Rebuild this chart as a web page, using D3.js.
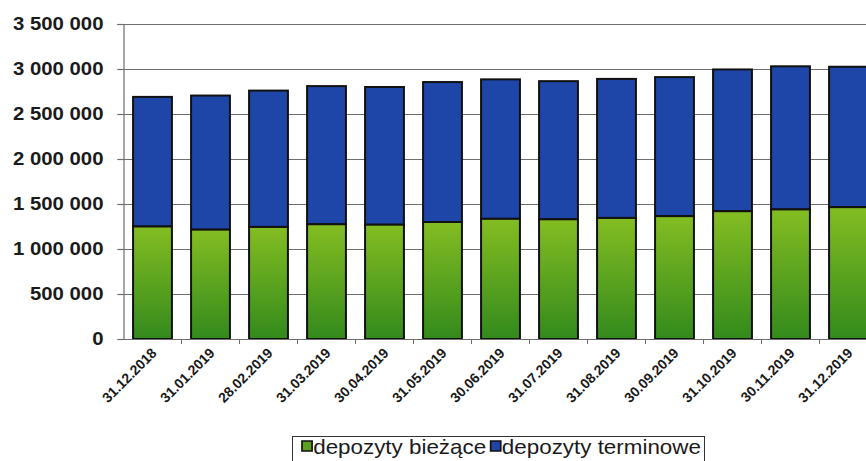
<!DOCTYPE html>
<html>
<head>
<meta charset="utf-8">
<script src="https://cdn.jsdelivr.net/npm/d3@7"></script>
<style>
  html, body { margin: 0; padding: 0; background: #fff; }
  svg { display: block; font-family: "Liberation Sans", Arial, sans-serif; }
</style>
</head>
<body>
<div id="chart"></div>
<script>
// Month-end dates
const categories = ["31.12.2018","31.01.2019","28.02.2019","31.03.2019","30.04.2019","31.05.2019",
  "30.06.2019","31.07.2019","31.08.2019","30.09.2019","31.10.2019","30.11.2019","31.12.2019"];
// Current deposits
const biezace = [1250000,1215000,1245000,1275000,1270000,1300000,1335000,1330000,1345000,1365000,1420000,1440000,1465000];
// Term deposits
const terminowe = [1440000,1490000,1515000,1535000,1530000,1555000,1550000,1535000,1545000,1545000,1575000,1590000,1560000];
const yTicks = [0,500000,1000000,1500000,2000000,2500000,3000000,3500000];
const seriesNames = ["depozyty bieżące","depozyty terminowe"];

const W = 866, H = 461;
const mLeft = 123.5, mTop = 24, mBottom = 339, mRight = mLeft + 58 * categories.length;

const svg = d3.select("#chart").append("svg").attr("width", W).attr("height", H);

const defs = svg.append("defs");
const gGreen = defs.append("linearGradient").attr("id","gGreen").attr("x1",0).attr("y1",0).attr("x2",0).attr("y2",1);
gGreen.append("stop").attr("offset","0%").attr("stop-color","#84bd22");
gGreen.append("stop").attr("offset","100%").attr("stop-color","#338a1c");

const x = d3.scaleBand().domain(categories).range([mLeft, mRight]).paddingInner(0.33).paddingOuter(0.165);
const y = d3.scaleLinear().domain([0, 3500000]).range([mBottom, mTop]);

// gridlines
svg.append("g").selectAll("line").data(yTicks.filter(d => d > 0)).join("line")
  .attr("x1", mLeft - 6).attr("x2", mRight)
  .attr("y1", d => Math.round(y(d)) + 0.5).attr("y2", d => Math.round(y(d)) + 0.5)
  .attr("stroke", "#6e6e6e").attr("stroke-width", 1.2);

// y axis
const fmt = d => d3.format(",")(d).replace(/,/g, " ");
const yAxis = svg.append("g").attr("transform", `translate(${mLeft},0)`)
  .call(d3.axisLeft(y).tickValues(yTicks).tickFormat(fmt).tickSize(6).tickPadding(14));
yAxis.select(".domain").attr("stroke", "#6e6e6e").attr("stroke-width", 1.2);
yAxis.selectAll(".tick line").attr("stroke", "#6e6e6e").attr("stroke-width", 1.2);
yAxis.selectAll(".tick text")
  .attr("font-size", 18.5).attr("font-weight", "bold").attr("fill", "#1a1a1a")
  .attr("font-family", "'Liberation Sans', Arial, sans-serif")
  .attr("x", -20 / 1.1).attr("transform", "scale(1.1,1)");

// stacked bars
const stack = categories.map((c, i) => ({ c, g: biezace[i], b: terminowe[i] }));
const bars = svg.append("g");
bars.selectAll("rect.t").data(stack).join("rect").attr("class","t")
  .attr("x", d => x(d.c)).attr("width", x.bandwidth())
  .attr("y", d => y(d.g + d.b)).attr("height", d => y(d.g) - y(d.g + d.b))
  .attr("fill", "#1e46a8").attr("stroke", "#111").attr("stroke-width", 2);
bars.selectAll("rect.g").data(stack).join("rect").attr("class","g")
  .attr("x", d => x(d.c)).attr("width", x.bandwidth())
  .attr("y", d => y(d.g)).attr("height", d => y(0) - y(d.g))
  .attr("fill", "url(#gGreen)").attr("stroke", "#111").attr("stroke-width", 2);

// x axis
const xAxis = svg.append("g").attr("transform", `translate(0,${mBottom})`);
xAxis.append("line").attr("x1", mLeft).attr("x2", mRight).attr("y1", 0.5).attr("y2", 0.5)
  .attr("stroke", "#6e6e6e").attr("stroke-width", 1.2);
xAxis.selectAll("line.tk").data(categories).join("line").attr("class","tk")
  .attr("x1", d => x(d) + x.step() * (1 - 0.165)).attr("x2", d => x(d) + x.step() * (1 - 0.165))
  .attr("y1", 0).attr("y2", 5).attr("stroke", "#6e6e6e");
xAxis.selectAll("text").data(categories).join("text")
  .attr("transform", d => `translate(${x(d) + x.bandwidth() / 2 + 5},${15}) rotate(-45)`)
  .attr("text-anchor", "end").attr("font-size", 14).attr("font-weight", "bold").attr("fill", "#1a1a1a")
  .text(d => d);

// legend
const lg = svg.append("g");
lg.append("rect").attr("x", 292.5).attr("y", 436.5).attr("width", 412).attr("height", 40)
  .attr("fill", "#fff").attr("stroke", "#333").attr("stroke-width", 1);
const legFills = ["#5da020", "#1e46a8"];
const items = lg.append("g").attr("transform", "translate(302,0) scale(1.12,1)");
let cx = 0;
seriesNames.forEach((n, i) => {
  items.append("rect").attr("x", cx).attr("y", 441).attr("width", 9).attr("height", 10)
    .attr("fill", legFills[i]).attr("stroke", "#111").attr("stroke-width", 1.5);
  const t = items.append("text").attr("x", cx + 10).attr("y", 454).attr("font-size", 20).attr("fill", "#1a1a1a")
    .text(n);
  cx += 10 + t.node().getComputedTextLength() + 4;
});
</script>
</body>
</html>
